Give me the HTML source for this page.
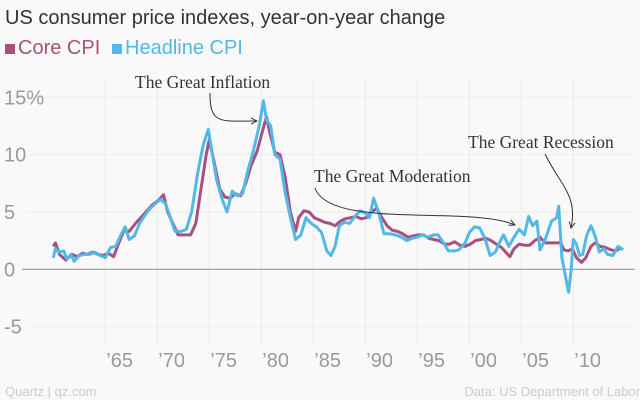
<!DOCTYPE html>
<html><head><meta charset="utf-8"><style>
body{margin:0;background:#f9f9f9;}
#c{position:relative;width:640px;height:400px;background:#f9f9f9;font-family:"Liberation Sans",sans-serif;overflow:hidden}
.t{position:absolute;white-space:nowrap}
</style></head><body>
<div id="c">
<div class="t" style="left:5px;top:7px;font-size:20px;color:#333">US consumer price indexes, year-on-year change</div>
<div class="t" style="left:5px;top:37px;font-size:20px;color:#a6517f"><span style="display:inline-block;width:10px;height:10px;background:#a6517f;margin-right:3px"></span>Core CPI</div>
<div class="t" style="left:112px;top:37px;font-size:20px;color:#51b8e8"><span style="display:inline-block;width:10px;height:10px;background:#51b8e8;margin-right:3px"></span>Headline CPI</div>
<svg id="s" width="640" height="400" style="position:absolute;left:0;top:0"></svg>
<div class="t" style="left:5px;top:384px;font-size:13px;color:#ccc">Quartz | qz.com</div>
<div class="t" style="right:0px;top:384px;font-size:13px;color:#ccc">Data: US Department of Labor</div>
</div>
<script>
const yTicks=[15,10,5,0,-5];
const yTickLabels=["15%","10","5","0","-5"];
const xTicks=[1965,1970,1975,1980,1985,1990,1995,2000,2005,2010];
const xTickLabels=["’65","’70","’75","’80","’85","’90","’95","’00","’05","’10"];
const headlineYears=[1960,1960.2,1960.5,1961,1961.3,1961.7,1962,1962.5,1963,1963.5,1964,1964.5,1965,1965.5,1966,1966.5,1966.9,1967.3,1967.8,1968.3,1968.8,1969.3,1969.9,1970.3,1970.8,1971.3,1971.7,1972.3,1972.8,1973.3,1973.9,1974.4,1974.9,1975.3,1975.7,1976.2,1976.7,1977.2,1977.7,1978.2,1978.7,1979.2,1979.8,1980.2,1980.5,1980.9,1981.3,1981.8,1982.3,1982.8,1983.3,1983.8,1984.3,1984.8,1985.3,1985.8,1986.3,1986.7,1987.1,1987.5,1988,1988.5,1989,1989.5,1990,1990.4,1990.8,1991.3,1991.8,1992.3,1992.9,1993.5,1994,1994.5,1995,1995.5,1996,1996.6,1997,1997.6,1998,1998.6,1999,1999.6,2000,2000.5,2001,2001.5,2002,2002.5,2003,2003.3,2003.8,2004.3,2004.8,2005.3,2005.7,2006.1,2006.5,2006.8,2007.3,2007.9,2008.4,2008.6,2008.9,2009.2,2009.55,2009.8,2010,2010.3,2010.6,2010.9,2011.3,2011.7,2012.1,2012.5,2012.9,2013.3,2013.8,2014.3,2014.8];
const headlineValues=[1.0,1.8,1.5,1.6,0.9,1.3,0.7,1.2,1.3,1.3,1.5,1.2,1.0,1.9,2.0,3.0,3.7,2.6,2.9,4.0,4.7,5.3,5.8,6.1,5.7,4.4,3.3,3.3,3.5,5.0,8.5,10.8,12.2,10.0,7.8,6.2,5.0,6.8,6.4,6.6,8.6,10.2,12.5,14.7,13.0,12.5,10.0,9.6,6.7,4.5,2.6,3.0,4.5,4.0,3.7,3.2,1.6,1.2,2.0,3.8,4.1,4.0,4.6,5.1,4.9,4.5,6.2,4.9,3.1,3.1,3.0,2.8,2.5,2.7,2.8,3.0,2.8,3.0,3.0,2.2,1.6,1.6,1.7,2.3,3.2,3.7,3.6,2.7,1.2,1.5,2.5,3.0,2.0,2.8,3.5,3.0,4.6,3.8,4.2,1.7,2.6,4.2,4.5,5.5,1.0,-0.4,-2.0,0.0,2.6,2.2,1.2,1.3,3.0,3.8,2.9,1.5,1.8,1.3,1.2,2.0,1.7];
const coreYears=[1960,1960.2,1960.6,1961.2,1961.8,1962.3,1962.8,1963.3,1963.8,1964.3,1964.8,1965.3,1965.8,1966.3,1966.8,1967.3,1967.9,1968.4,1968.9,1969.5,1970.1,1970.6,1971.0,1971.5,1972,1972.6,1973.2,1973.7,1974.2,1974.7,1975.0,1975.5,1976,1976.5,1977,1977.5,1978,1978.5,1979,1979.6,1980.1,1980.5,1980.8,1981.3,1981.8,1982.3,1982.8,1983.3,1983.6,1984.1,1984.6,1985.1,1985.6,1986.1,1986.6,1987.1,1987.6,1988.1,1988.6,1989.1,1989.6,1990.1,1990.6,1991.1,1991.6,1992.1,1992.6,1993.1,1993.6,1994.1,1994.6,1995.1,1995.6,1996.1,1996.6,1997.1,1997.6,1998.1,1998.6,1999.1,1999.6,2000.1,2000.6,2001.1,2001.6,2002.1,2002.6,2003.1,2003.6,2003.9,2004.3,2004.8,2005.3,2005.8,2006.3,2006.8,2007.3,2007.8,2008.3,2008.8,2009.1,2009.5,2009.9,2010.3,2010.8,2011.2,2011.7,2012.1,2012.6,2013.1,2013.6,2014.1,2014.6];
const coreValues=[2.0,2.3,1.3,0.8,1.3,1.1,1.4,1.3,1.5,1.3,1.2,1.4,1.1,2.3,3.4,3.3,4.0,4.5,5.0,5.6,6.0,6.5,5.0,4.0,3.0,3.0,3.0,4.0,7.0,10.0,11.3,9.2,7.0,6.3,6.2,6.6,6.4,7.5,9.0,10.3,12.0,13.3,12.0,10.2,10.0,8.0,5.0,3.3,4.5,5.1,5.0,4.5,4.3,4.1,4.0,3.8,4.2,4.4,4.5,4.6,4.4,4.5,5.0,5.3,4.5,3.8,3.4,3.3,3.1,2.8,2.9,3.0,3.0,2.7,2.6,2.5,2.2,2.2,2.4,2.1,2.0,2.2,2.5,2.6,2.7,2.5,2.2,1.9,1.4,1.1,1.8,2.2,2.1,2.1,2.5,2.8,2.3,2.3,2.3,2.3,1.7,1.6,1.8,1.0,0.6,1.0,2.0,2.3,2.0,1.9,1.7,1.6,1.9];

const NS="http://www.w3.org/2000/svg";
const svg=document.getElementById('s');
const xs=y=>105.3+(y-1965)*10.4;
const ys=v=>269.3-v*11.47;
function mk(t,a){const e=document.createElementNS(NS,t);for(const k in a)e.setAttribute(k,a[k]);svg.appendChild(e);return e;}
xTicks.forEach((t,i)=>{
  const g=mk('line',{x1:xs(t),x2:xs(t),y1:80,y2:345,stroke:'#ececec','stroke-width':1});
  
  
  const tx=mk('text',{x:xs(t)+1,y:367,fill:'#999','font-size':20,'font-family':'Liberation Sans, sans-serif'});
  tx.textContent=xTickLabels[i];
  
  
});
yTicks.forEach((t,i)=>{
  const g=mk('line',{x1:t===0?22:28,x2:635,y1:ys(t),y2:ys(t),stroke:t===0?'#999':'#ececec','stroke-width':t===0?1.2:1});
  
  
  const tx=mk('text',{x:4,y:ys(t)+7,fill:'#999','font-size':20,'font-family':'Liberation Sans, sans-serif'});
  tx.textContent=yTickLabels[i];
  
  
});
function line(yrs,vals,col,name){
  const d=yrs.map((y,i)=>(i?'L':'M')+xs(y).toFixed(1)+','+ys(vals[i]).toFixed(1)).join('');
  const p=mk('path',{d:d,fill:'none',stroke:col,'stroke-width':3,'stroke-linejoin':'round'});
  
  
}
line(coreYears,coreValues,'#a6517f','core-cpi-line');
line(headlineYears,headlineValues,'#51b8e8','headline-cpi-line');
const defs=mk('defs',{});
defs.innerHTML='<marker id="ah" markerWidth="8" markerHeight="8" refX="7" refY="4" orient="auto"><path d="M1,1 L7,4 L1,7" fill="none" stroke="#333" stroke-width="1"/></marker>';
const ann=[["The Great Inflation",135,88,"M210,93 C210,125 220,121 257,121","annotation-great-inflation"],
["The Great Moderation",314,182,"M315,188 C330,230 470,205 515,225","annotation-great-moderation"],
["The Great Recession",468,148,"M545,154 C560,185 578,195 571,228","annotation-great-recession"]];
ann.forEach(a=>{
  const t=mk('text',{x:a[1],y:a[2],fill:'#333','font-size':17.5,'font-family':'Liberation Serif, serif'});
  t.textContent=a[0];
  
  
  const p=mk('path',{d:a[3],fill:'none',stroke:'#333','stroke-width':1,'marker-end':'url(#ah)'});
  
  
});
</script>
</body></html>
